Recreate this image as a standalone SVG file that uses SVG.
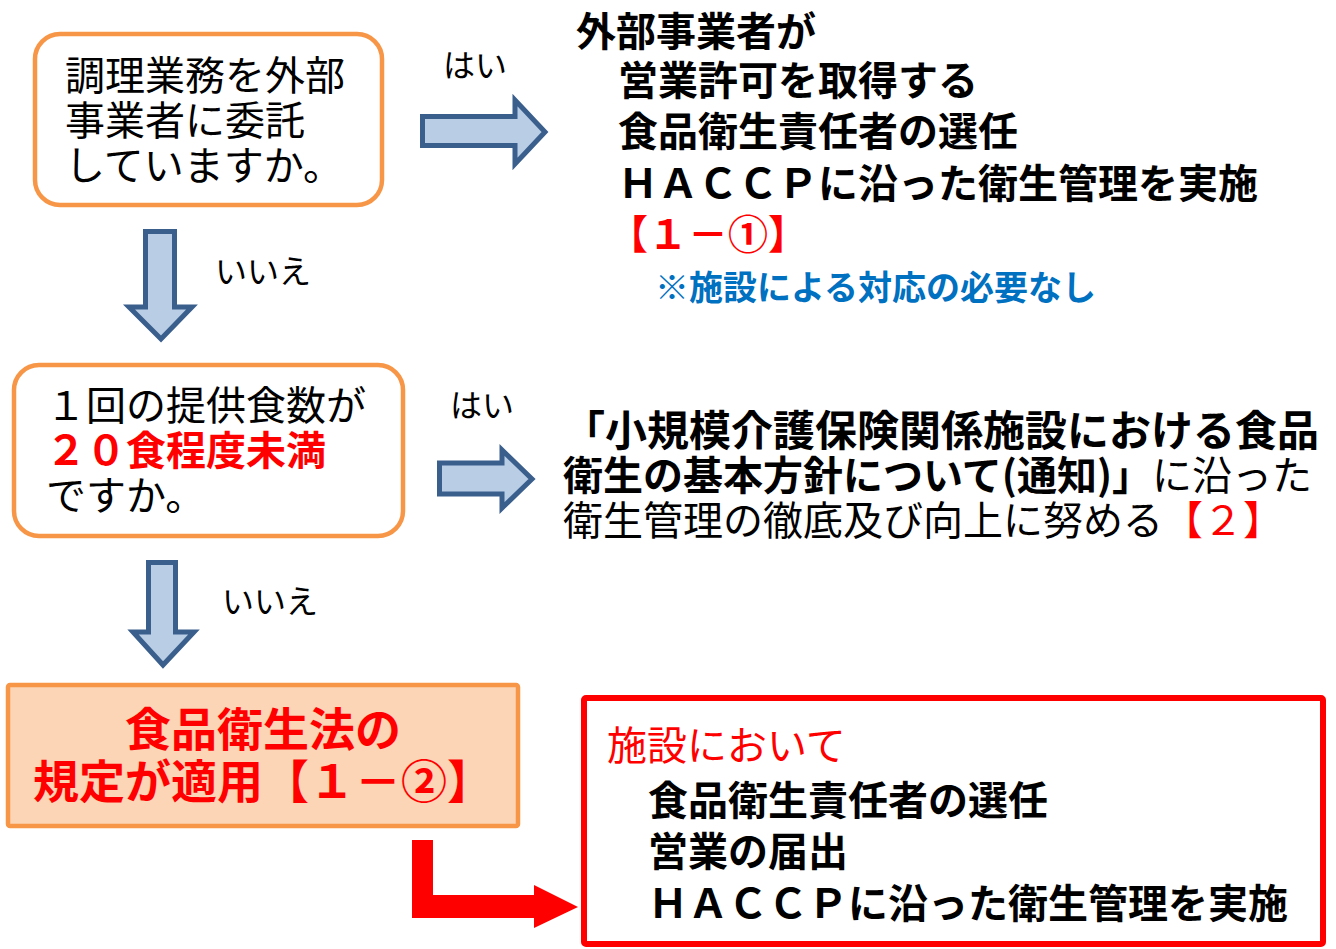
<svg xmlns="http://www.w3.org/2000/svg" width="1336" height="949" viewBox="0 0 1336 949">
<defs>
<style>
text { font-family: "Noto Sans CJK JP", "Noto Sans", sans-serif; }
.q { fill: #ffffff; stroke: #F79646; stroke-width: 4.5; }
.b { fill: #B9CDE5; stroke: #3A5F8D; stroke-width: 5; stroke-linejoin: miter; }
.t { font-size: 40px; fill: #000; }
.bd { font-weight: bold; }
.red { fill: #FF0000; }
.lbl { font-size: 32px; fill: #000; }
</style>
</defs>
<rect width="1336" height="949" fill="#ffffff"/>

<g id="q1">
<rect class="q" x="35" y="34" width="347" height="171" rx="25"/>
<text class="t" x="65" y="90">調理業務を外部</text>
<text class="t" x="65" y="135">事業者に委託</text>
<text class="t" x="65" y="180">していますか。</text>
</g>

<g id="r1">
<text class="t bd" x="576" y="46">外部事業者が</text>
<text class="t bd" x="618" y="95">営業許可を取得する</text>
<text class="t bd" x="618" y="146">食品衛生責任者の選任</text>
<text class="t bd" x="618" y="198">ＨＡＣＣＰに沿った衛生管理を実施</text>
<text class="t bd red" x="608" y="249">【１－①】</text>
<text class="bd" x="655" y="300" font-size="34" fill="#0070C0">※施設による対応の必要なし</text>
</g>

<g id="q2">
<rect class="q" x="14" y="365" width="389" height="171" rx="25"/>
<text class="t" x="46" y="420">１回の提供食数が</text>
<text class="t bd red" x="46" y="465">２０食程度未満</text>
<text class="t" x="46" y="510">ですか。</text>
</g>

<g id="r2">
<text class="bd" x="563" y="446" font-size="42">「小規模介護保険関係施設における食品</text>
<text x="563" y="490" font-size="40"><tspan class="bd">衛生の基本方針について(通知)」</tspan>に沿った</text>
<text x="563" y="535" font-size="40">衛生管理の徹底及び向上に努める<tspan class="red">【２】</tspan></text>
</g>

<g id="q3">
<rect x="8" y="685" width="510" height="141" rx="2" fill="#FBD5B5" stroke="#F79646" stroke-width="4.5"/>
<text class="bd red" x="263" y="746" font-size="46" text-anchor="middle">食品衛生法の</text>
<text class="bd red" x="263" y="798" font-size="46" text-anchor="middle">規定が適用【１－②】</text>
</g>

<g id="r3">
<rect x="584" y="698" width="739" height="246" rx="2" fill="#ffffff" stroke="#FF0000" stroke-width="6"/>
<text class="t red" x="607" y="760">施設において</text>
<text class="t bd" x="648" y="815">食品衛生責任者の選任</text>
<text class="t bd" x="648" y="866">営業の届出</text>
<text class="t bd" x="648" y="918">ＨＡＣＣＰに沿った衛生管理を実施</text>
</g>

<g id="connectors">
<path class="b" d="M422.5,116.5 H515 V100 L545,132 L515,164 V145.5 H422.5 Z"/>
<text class="lbl" x="443" y="77">はい</text>
<path class="b" d="M145.5,231.5 H174.5 V307 H192 L161,339 L129,307 H145.5 Z"/>
<text class="lbl" x="215" y="283">いいえ</text>
<path class="b" d="M439.5,463 H502 V450 L532,479 L502,508 V494 H439.5 Z"/>
<text class="lbl" x="450" y="417">はい</text>
<path class="b" d="M148.5,562.5 H175.5 V632 H194 L163,665 L133,632 H148.5 Z"/>
<text class="lbl" x="222" y="613">いいえ</text>
<path d="M412,840 H433 V895 H534 V885 L578,907 L534,928 V918 H412 Z" fill="#FF0000"/>
</g>
</svg>
